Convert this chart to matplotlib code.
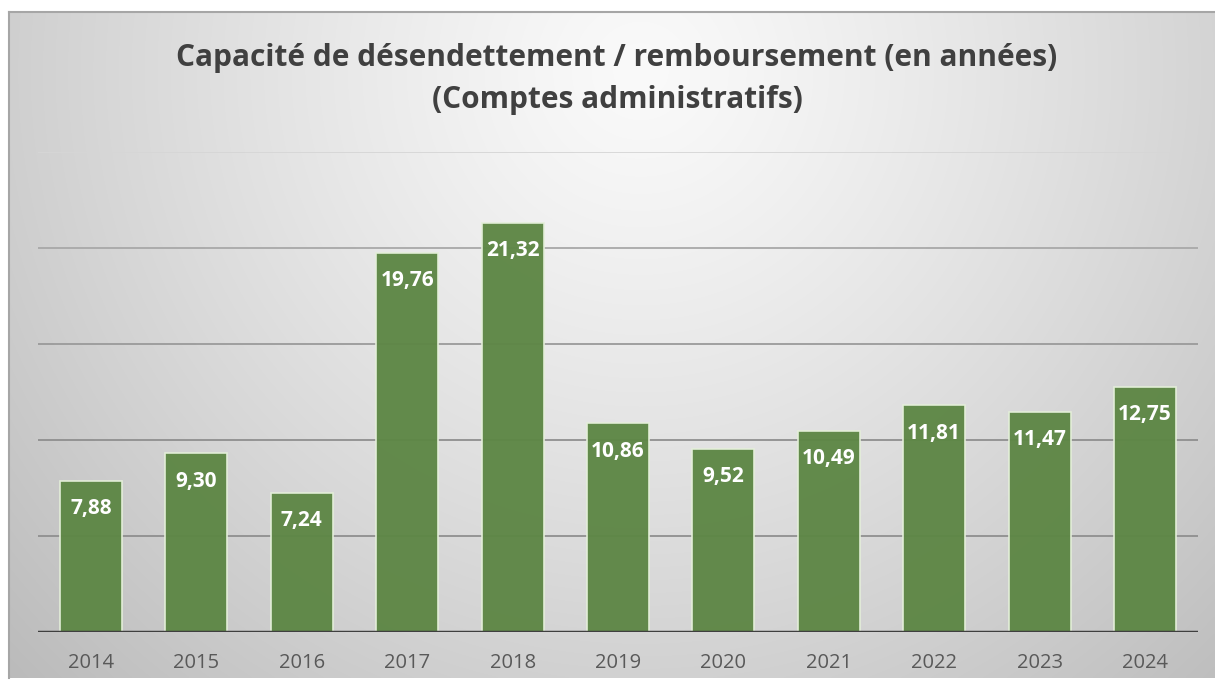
import numpy as np
import matplotlib
matplotlib.use("Agg")
import matplotlib.pyplot as plt

years = ["2014", "2015", "2016", "2017", "2018", "2019", "2020", "2021", "2022", "2023", "2024"]
values = [7.88, 9.30, 7.24, 19.76, 21.32, 10.86, 9.52, 10.49, 11.81, 11.47, 12.75]
labels = ["7,88", "9,30", "7,24", "19,76", "21,32", "10,86", "9,52", "10,49", "11,81", "11,47", "12,75"]
title = "Capacité de désendettement / remboursement (en années)\n(Comptes administratifs)"

W, H = 1215, 682
fig = plt.figure(figsize=(W / 100, H / 100), dpi=100)
fig.patch.set_facecolor("white")

# background gradient panel with frame
bg = fig.add_axes([9 / W, 4 / H, 1 - 9 / W, (H - 16) / H], zorder=0)
bg.set_axis_off()
ny, nx = 333, 603
yy, xx = np.mgrid[0:ny, 0:nx]
px = 9 + xx * (W - 9) / nx
py = 12 + yy * (H - 16) / ny
r = np.sqrt(((px - 640) / 720) ** 2 + ((py - 70) / 720) ** 2)
val = np.clip(250 - 50 * r ** 1.2, 170, 255) / 255.0
img = np.dstack([val, val, val])
bg.imshow(img, aspect="auto", extent=[0, 1, 0, 1], origin="upper", interpolation="bilinear")
bg.set_xlim(0, 1)
bg.set_ylim(0, 1)
bg.plot([0, 0], [0, 1], color="#a6a6a6", lw=1.5, clip_on=False)
bg.plot([0, 1], [1, 1], color="#a6a6a6", lw=1.5, clip_on=False)

# main axes
left, right = 38.3, 1197.7
top, base = 152, 632
ax = fig.add_axes([left / W, (H - base) / H, (right - left) / W, (base - top) / H], zorder=1)
ax.set_facecolor("none")
for s in ax.spines.values():
    s.set_visible(False)

x = np.arange(len(years))
ax.set_xlim(-0.5, len(years) - 0.5)
ax.set_ylim(0, 25)

grid_colors = {5: "#8f8f8f", 10: "#8f8f8f", 15: "#9a9a9a", 20: "#a8a8a8", 25: "#d6d6d6"}
for yv, c in grid_colors.items():
    ax.axhline(yv, color=c, lw=1.3, zorder=1)

bars = ax.bar(x, values, width=0.59, color="#5e8746", edgecolor="#e4efd9", linewidth=1.2, zorder=2, alpha=0.97)
ax.axhline(0, color="#3f3f3f", lw=2.5, zorder=3)

for xi, v, lab in zip(x, values, labels):
    ax.annotate(lab, (xi, v), xytext=(0, -20), textcoords="offset points",
                ha="center", va="center", color="white", fontsize=15,
                fontweight="bold", family="Open Sans", zorder=4)

ax.set_xticks(x)
ax.set_xticklabels(years, fontsize=14.5, color="#595959", family="Open Sans")
ax.tick_params(axis="x", length=0, pad=15)
ax.set_yticks([])

fig.text(617 / W, 1 - 79 / H, title, ha="center", va="center", fontsize=21.5,
         fontweight="bold", color="#404040", family="Open Sans", linespacing=1.56)

fig.savefig("out.png", dpi=100)
